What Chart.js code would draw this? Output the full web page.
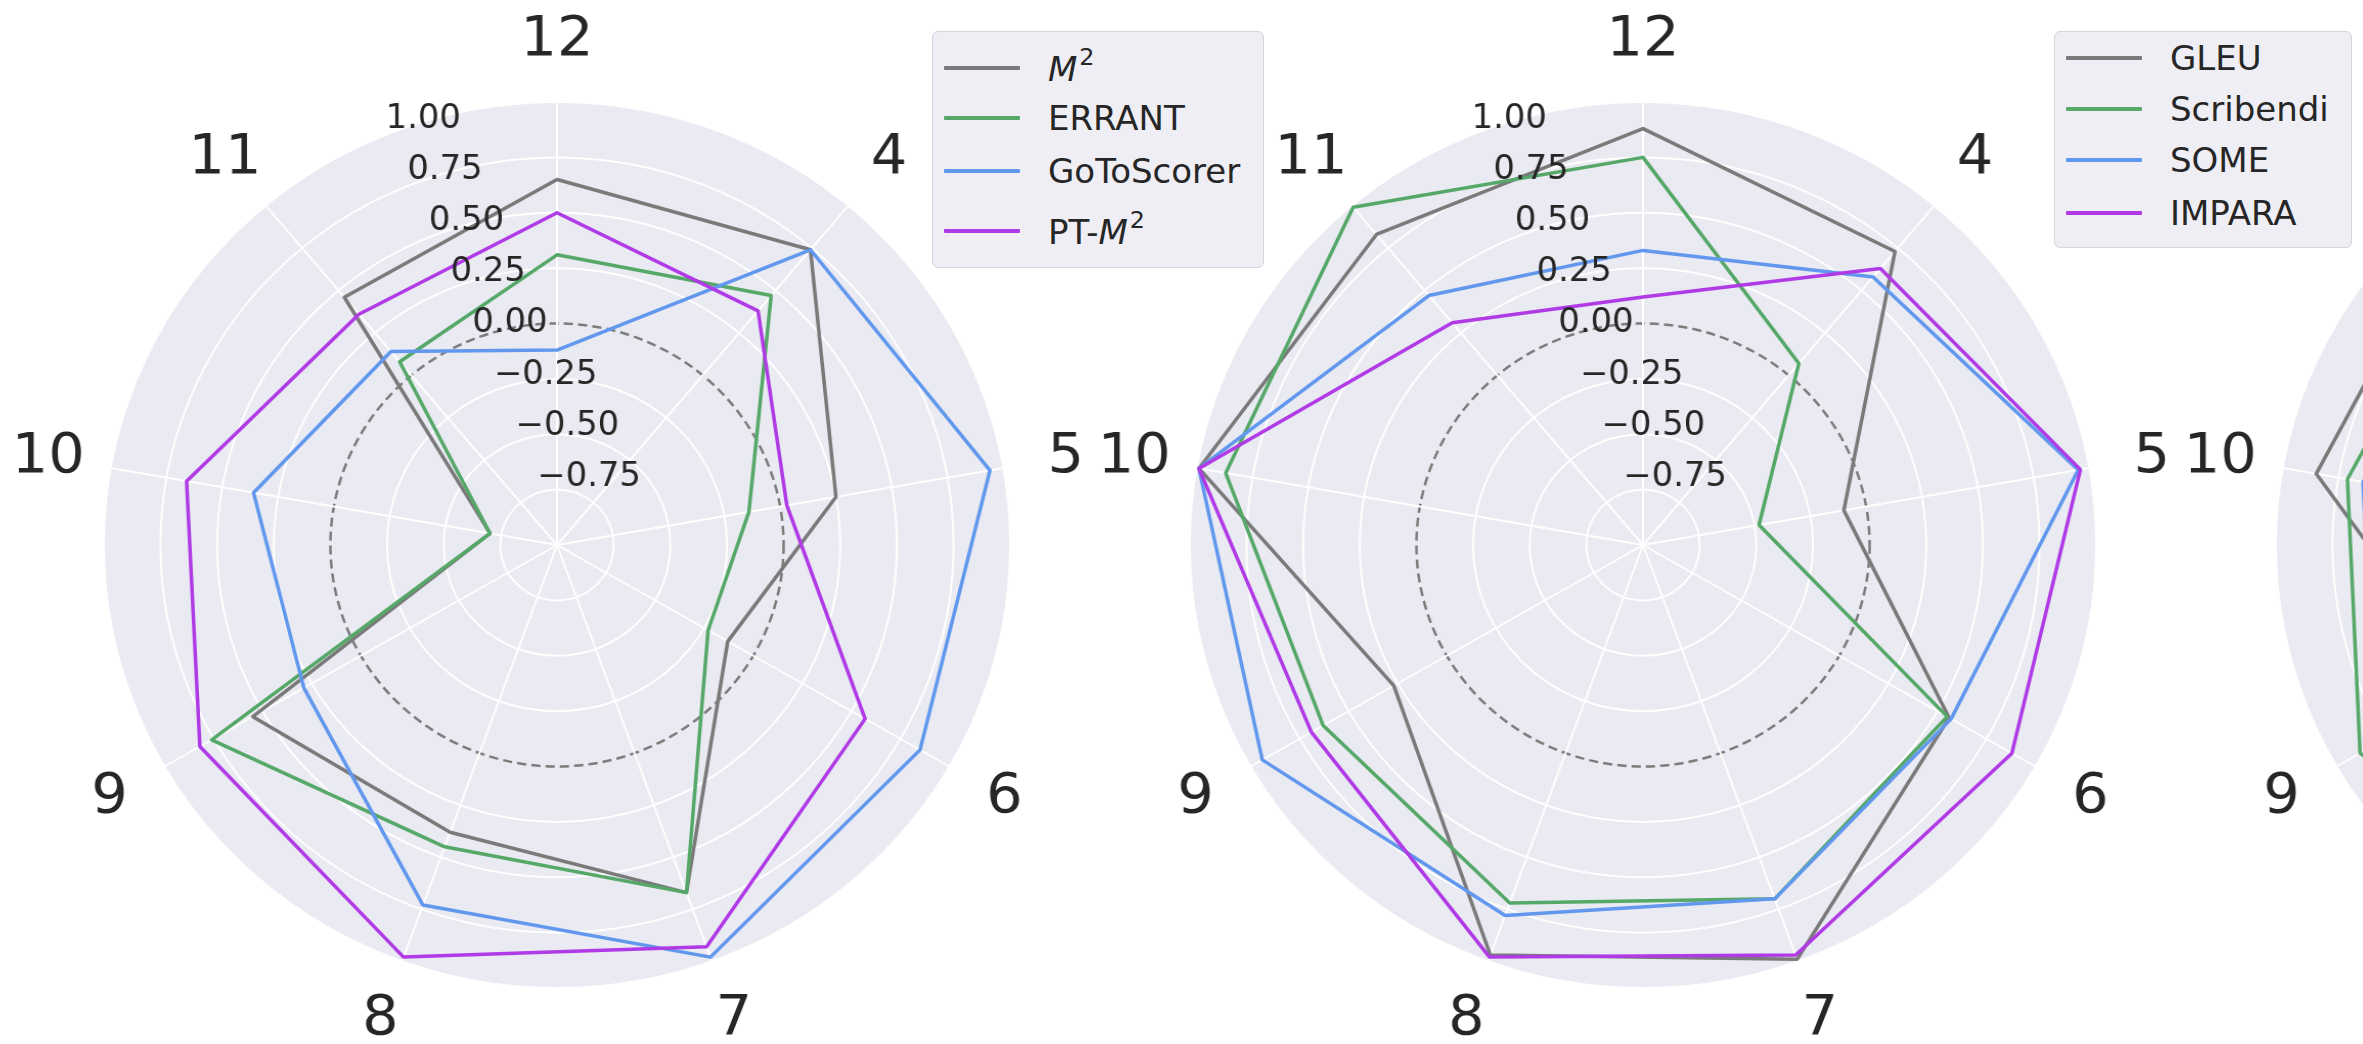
<!DOCTYPE html>
<html>
<head>
<meta charset="utf-8">
<script src="https://cdn.jsdelivr.net/npm/chart.js@4.4.1/dist/chart.umd.min.js"></script>
<style>
  html, body { margin: 0; padding: 0; background: #fff; }
  body { width: 2363px; height: 1044px; position: relative; overflow: hidden; font-family: "DejaVu Sans", sans-serif; }
  .panel { position: absolute; top: 0; width: 1086px; height: 1044px; transform: scaleX(1.023); transform-origin: 543px 0; }
  .legend { position: absolute; background: #eeeef4; border: 1.5px solid #d5d5db; border-radius: 6px; box-sizing: border-box; }
  .legend .row { position: absolute; left: 11px; height: 44px; display: flex; align-items: center; font-size: 34px; color: #262626; white-space: nowrap; }
  .legend .swatch { display: inline-block; width: 76px; height: 4px; margin-right: 28px; border-radius: 1px; }
  .legend sup { font-size: 0.7em; position: relative; top: -0.15em; margin-left: 2px; }
</style>
</head>
<body>

<script>
const categories = ['12', '4', '5', '6', '7', '8', '9', '10', '11']

// radial axis
const rMin = -1
const rMax = 1
const rStep = 0.25

// left panel
const leftSeries = ['M²', 'ERRANT', 'GoToScorer', 'PT-M²']
const m2Values = [0.65, 0.74, 0.25, -0.13, 0.67, 0.38, 0.55, -0.70, 0.46]
const errantValues = [0.31, 0.47, -0.14, -0.23, 0.67, 0.45, 0.76, -0.70, 0.08]
const goToScorerValues = [-0.12, 0.74, 0.94, 0.85, 0.98, 0.73, 0.29, 0.36, 0.14]
const ptM2Values = [0.50, 0.38, 0.03, 0.57, 0.93, 0.98, 0.82, 0.66, 0.36]

// middle panel
const rightSeries = ['GLEU', 'Scribendi', 'SOME', 'IMPARA']
const gleuValues = [0.88, 0.73, -0.10, 0.56, 0.99, 0.97, 0.27, 0.99, 0.83]
const scribendiValues = [0.75, 0.07, -0.48, 0.55, 0.70, 0.72, 0.63, 0.87, 0.99]
const someValues = [0.33, 0.58, 0.95, 0.57, 0.70, 0.78, 0.94, 0.99, 0.47]
const imparaValues = [0.12, 0.63, 0.96, 0.88, 0.97, 0.98, 0.69, 0.99, 0.31]

// third panel, cut off at the right edge (only the 10/9 side is visible)
const thirdSeries = ['series 1', 'series 2', 'series 3', 'series 4']
const third1Values = [0.80, 0.70, 0.30, 0.50, 0.90, 0.90, 0.30, 0.85, 0.90]
const third2Values = [0.70, 0.50, 0.20, 0.50, 0.80, 0.80, 0.88, 0.71, 0.75]
const third3Values = [0.50, 0.60, 0.90, 0.60, 0.70, 0.80, 0.80, 0.64, 0.50]
const third4Values = [0.30, 0.60, 0.90, 0.80, 0.95, 0.90, 0.60, 0.50, 0.40]

const palette = ['#7a7a7a', '#55a868', '#6198ee', '#b03ae6']
const textColor = '#262626'

function fmtTick(v) {
  return v.toFixed(2).replace('-', '\u2212')
}

// category labels and r tick labels, placed like matplotlib does it
const radarText = {
  id: 'radarText',
  afterDatasetsDraw(chart) {
    const r = chart.scales.r
    const ctx = chart.ctx
    ctx.save()
    ctx.fillStyle = textColor

    ctx.font = '33px "DejaVu Sans"'
    ctx.textAlign = 'left'
    ctx.textBaseline = 'alphabetic'
    const a = -Math.PI / 2 - Math.PI / 8
    r.ticks.forEach((t, i) => {
      if (i === 0) return
      const d = r.getDistanceFromCenterForValue(t.value)
      ctx.fillText(fmtTick(t.value), r.xCenter + Math.cos(a) * d + 2, r.yCenter + Math.sin(a) * d - 8)
    })

    ctx.font = '56px "DejaVu Sans"'
    ctx.textAlign = 'center'
    ctx.textBaseline = 'middle'
    chart.data.labels.forEach((lab, i) => {
      const p = r.getPointPosition(i, r.drawingArea + 62)
      ctx.fillText(lab, p.x, p.y)
    })
    ctx.restore()
  }
}

function makeDatasets(names, valueLists) {
  return names.map((name, i) => ({
    label: name,
    data: valueLists[i],
    borderColor: palette[i],
    backgroundColor: palette[i],
    borderWidth: 3.5,
    borderJoinStyle: 'round',
    pointRadius: 0,
    pointHoverRadius: 0,
    fill: false,
    tension: 0,
    clip: false,
    order: names.length - i
  }))
}

function makeRadar(left, names, valueLists) {
  const panel = document.createElement('div')
  panel.className = 'panel'
  panel.style.left = left + 'px'
  const canvas = document.createElement('canvas')
  canvas.width = 1086
  canvas.height = 1044
  panel.appendChild(canvas)
  document.body.appendChild(panel)

  return new Chart(canvas, {
    type: 'radar',
    data: {
      labels: categories,
      datasets: makeDatasets(names, valueLists)
    },
    options: {
      responsive: false,
      animation: false,
      devicePixelRatio: 1,
      layout: { padding: { left: 100, right: 100, top: 102, bottom: 56 } },
      plugins: {
        legend: { display: false },
        tooltip: { enabled: false }
      },
      scales: {
        r: {
          min: rMin,
          max: rMax,
          backgroundColor: '#eaeaf2',
          ticks: { display: false, stepSize: rStep },
          pointLabels: { display: false },
          angleLines: { color: '#ffffff', lineWidth: 2 },
          grid: {
            circular: true,
            color: c => (c.tick && c.tick.value === 0) ? '#7c7c7c' : '#ffffff',
            lineWidth: c => (c.tick && c.tick.value === 0) ? 2.5 : 2
          },
          border: {
            dash: c => (c.tick && c.tick.value === 0) ? [9, 5] : []
          }
        }
      }
    },
    plugins: [radarText]
  })
}

function makeLegend(names, box, rowCenters) {
  const el = document.createElement('div')
  el.className = 'legend'
  el.style.left = box.x + 'px'
  el.style.top = box.y + 'px'
  el.style.width = box.w + 'px'
  el.style.height = box.h + 'px'
  names.forEach((name, i) => {
    const row = document.createElement('div')
    row.className = 'row'
    row.style.top = (rowCenters[i] - 22) + 'px'
    const sw = document.createElement('span')
    sw.className = 'swatch'
    sw.style.background = palette[i]
    const txt = document.createElement('span')
    txt.innerHTML = name.replace('M²', '<i>M</i><sup>2</sup>')
    row.appendChild(sw)
    row.appendChild(txt)
    el.appendChild(row)
  })
  document.body.appendChild(el)
}

makeRadar(14, leftSeries, [m2Values, errantValues, goToScorerValues, ptM2Values])
makeRadar(1100, rightSeries, [gleuValues, scribendiValues, someValues, imparaValues])
makeRadar(2186, thirdSeries, [third1Values, third2Values, third3Values, third4Values])

makeLegend(leftSeries, { x: 932, y: 31, w: 332, h: 237 }, [36, 86, 139, 199])
makeLegend(rightSeries, { x: 2054, y: 31, w: 298, h: 217 }, [26, 77, 128, 181])
</script>
</body>
</html>
